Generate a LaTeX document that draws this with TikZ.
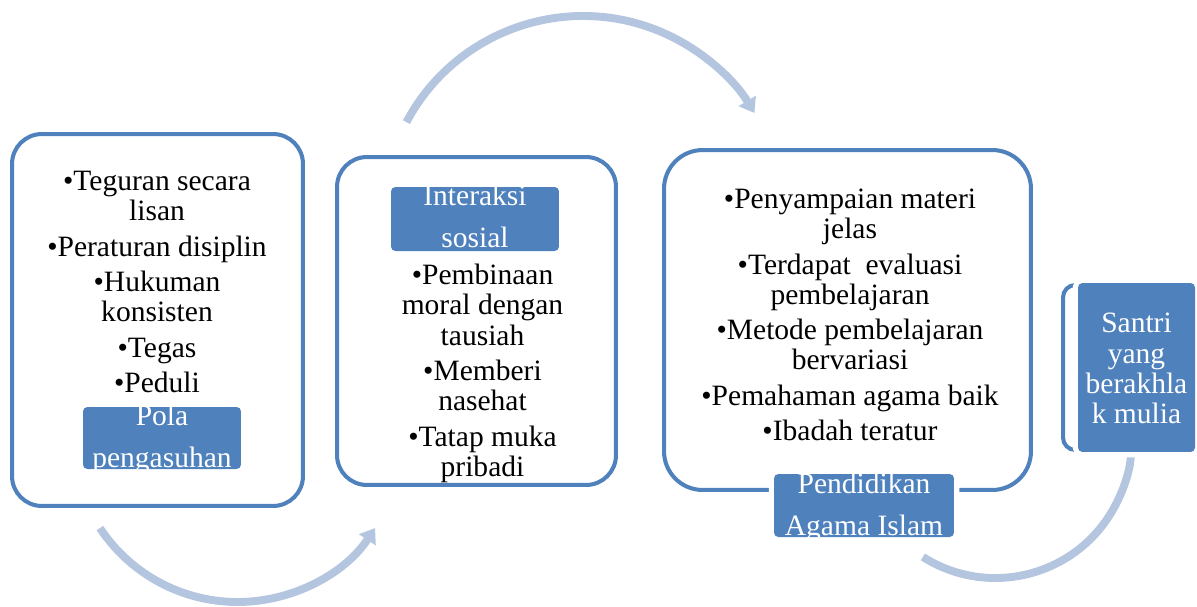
\documentclass[tikz,border=0pt]{standalone}
\usepackage{fontspec}
\setmainfont{Liberation Serif}
\usetikzlibrary{arrows.meta}
\definecolor{boxblue}{RGB}{79,129,189}
\definecolor{arrowblue}{RGB}{180,197,224}
\newcommand{\tagtext}[2][-4.5pt]{\raisebox{#1}[0pt][0pt]{\begin{tabular}{@{}c@{}}#2\end{tabular}}}
\tikzset{
    >={Triangle[length=8pt,width=11pt]},
    outerbox/.style={draw=boxblue,line width=2.3pt,fill=white,rounded corners=17pt,inner sep=0pt},
    tagbox/.style={fill=boxblue,text=white,rounded corners=2.5pt,inner sep=0pt,
        font=\fontsize{16.8}{24}\selectfont,preaction={draw=white,line width=6pt}},
    itemtext/.style={align=center,inner sep=0pt,font=\fontsize{16.8}{17.2}\selectfont},
    flowarrow/.style={draw=arrowblue,line width=4.5pt,->}
}
\begin{document}
\begin{tikzpicture}[x=0.02cm,y=-0.02cm]
    \useasboundingbox (0,0) rectangle (1197,606);

    % curved arrows between the stages
    \coordinate (arcone) at (237.5,437);
    \coordinate (arctwo) at (583,216);
    \coordinate (arcthree) at (995.4,442.7);
    \draw[flowarrow] ([shift={(arcone)}]146.5:165) arc[start angle=146.5,end angle=33.5,radius=165];
    \draw[flowarrow] ([shift={(arctwo)}]-152:200) arc[start angle=-152,end angle=-31,radius=200];
    \draw[flowarrow] ([shift={(arcthree)}]122.4:135.3) arc[start angle=122.4,end angle=0,radius=135.3];

    % stage boxes
    \node[outerbox,minimum width=5.82cm,minimum height=7.44cm] (pola) at (157.5,320) {};
    \node[outerbox,minimum width=5.58cm,minimum height=6.56cm] (interaksi) at (476.5,321) {};
    \node[outerbox,minimum width=7.34cm,minimum height=6.8cm,rounded corners=22pt] (pai) at (847.5,320) {};
    \node[outerbox,minimum width=3.74cm,minimum height=3.3cm,rounded corners=7pt] (santri) at (1156.5,367.5) {};

    % bullet texts
    \node[itemtext] (polaitems) at (157,282)
        {•Teguran secara\\lisan\\[3pt]•Peraturan disiplin\\[3pt]•Hukuman\\konsisten\\[3pt]•Tegas\\[3pt]•Peduli};
    \node[itemtext] (interaksiitems) at (482.5,373.5)
        {•Pembinaan\\moral dengan\\tausiah\\[3pt]•Memberi\\nasehat\\[3pt]•Tatap muka\\pribadi};
    \node[itemtext] (paiitems) at (850,315)
        {•Penyampaian materi\\jelas\\[3pt]•Terdapat \ evaluasi\\pembelajaran\\[3pt]•Metode pembelajaran\\bervariasi\\[3pt]•Pemahaman agama baik\\[3pt]•Ibadah teratur};

    % title tags
    \node[tagbox,minimum width=3.16cm,minimum height=1.24cm] (polatag) at (162,438) {\tagtext{Pola\\pengasuhan}};
    \node[tagbox,minimum width=3.36cm,minimum height=1.28cm] (interaksitag) at (475,219) {\tagtext[-4pt]{Interaksi\\sosial}};
    \node[tagbox,minimum width=3.6cm,minimum height=1.26cm] (paitag) at (864,505.5) {\tagtext{Pendidikan\\Agama Islam}};
    \node[tagbox,minimum width=2.34cm,minimum height=3.38cm,font=\fontsize{16.8}{17.2}\selectfont] (santritag) at (1136.5,367.5)
        {\tagtext[-7pt]{Santri\\yang\\berakhla\\k mulia}};
\end{tikzpicture}
\end{document}
